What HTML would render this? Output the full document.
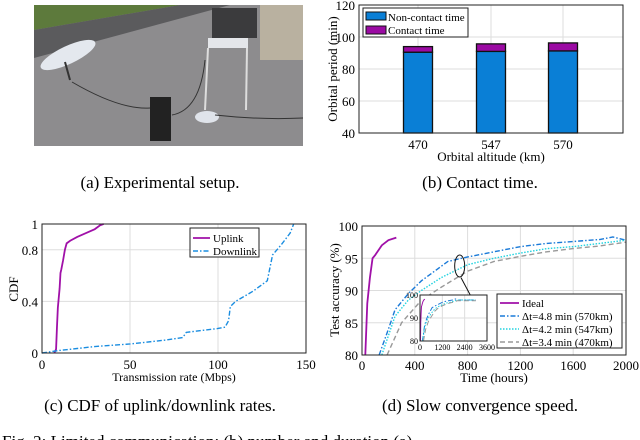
<!DOCTYPE html>
<html><head><meta charset="utf-8"><style>
body{margin:0;background:#fff;}
svg{display:block;font-family:"Liberation Serif",serif;}
</style></head><body>
<svg id="fig" width="640" height="440" viewBox="0 0 640 440">
<g>
 <rect x="34" y="5" width="269" height="141" fill="#8d8c8e"/>
 <polygon points="34,5 180,5 34,30" fill="#5d7a3c"/>
 <polygon points="34,30 180,5 230,5 34,58" fill="#5b5b5d"/>
 <rect x="260" y="5" width="43" height="55" fill="#b9b1a0"/>
 <rect x="212" y="8" width="45" height="30" fill="#3b3b3d"/>
 <rect x="208" y="38" width="40" height="10" fill="#e4e6ea"/>
 <line x1="208" y1="48" x2="205" y2="110" stroke="#ddd" stroke-width="2"/>
 <line x1="247" y1="48" x2="246" y2="110" stroke="#ddd" stroke-width="2"/>
 <ellipse cx="68" cy="55" rx="30" ry="9" fill="#e4e8ee" transform="rotate(-25 68 55)"/>
 <line x1="65" y1="62" x2="70" y2="80" stroke="#333" stroke-width="2"/>
 <rect x="150" y="97" width="21" height="44" fill="#222"/>
 <ellipse cx="207" cy="117" rx="12" ry="6" fill="#dfe3ea"/>
 <path d="M72,82 Q120,110 150,108 M172,115 Q200,110 205,60 M215,115 Q260,120 303,118" stroke="#333" fill="none" stroke-width="1"/>
</g>
<text x="160" y="188" font-size="17" text-anchor="middle">(a) Experimental  setup.</text>
<g id="chartB"></g>
<text x="480" y="188" font-size="17" text-anchor="middle">(b) Contact time.</text>
<g id="chartC"></g>
<text x="160" y="411" font-size="17" text-anchor="middle">(c) CDF of uplink/downlink rates.</text>
<g id="chartD"></g>
<text x="480" y="411" font-size="17" text-anchor="middle">(d) Slow convergence speed.</text>
<text x="2" y="447" font-size="17">Fig. 2: Limited communication: (b) number and duration (a)</text>
</svg>
<script>
const barCats=["470","547","570"];
const nonContact=[90.5,91,91.3];
const contact=[3.5,4.7,5];
const bTicks=[40,60,80,100,120];
const cdfXTicks=[0,50,100,150];
const cdfYTicks=[0,0.4,0.8,1];
const upX=[7,8,8.5,9,10,10.5,11,12,13,14,16,20,25,30,33,35];
const upY=[0,0.03,0.2,0.35,0.5,0.62,0.65,0.72,0.8,0.85,0.87,0.9,0.93,0.96,0.99,1];
const dnX=[0,10,30,50,70,80,82,100,104,106,107,110,120,128,131,136,141,143];
const dnY=[0,0.02,0.05,0.07,0.1,0.12,0.16,0.19,0.2,0.25,0.36,0.4,0.48,0.56,0.76,0.84,0.93,1];
const dXTicks=[0,400,800,1200,1600,2000];
const dYTicks=[80,85,90,95,100];
const idealT=[25,40,60,80,100,150,200,260];
const idealA=[80,88,92,95,95.5,97,97.8,98.2];
const s570T=[130,200,250,350,450,550,650,800,1000,1200,1400,1600,1800,1900,2000];
const s570A=[80,84,87,89.5,91.5,93,94.5,95.2,96,96.8,97.3,97.6,97.9,98.3,97.8];
const s547T=[150,250,350,450,600,800,1000,1200,1400,1600,1800,2000];
const s547A=[80,86,88.5,90,92,94,95,95.8,96.5,96.8,97.3,97.8];
const s470T=[190,300,450,600,800,1000,1200,1400,1600,1800,2000];
const s470A=[80,85,88.5,90.5,93,94.5,95.3,96,96.5,96.9,97.5];
const insetXTicks=[0,1200,2400,3600];
const insetYTicks=[80,90,100];

const NS="http://www.w3.org/2000/svg";
function mk(p,tag,at){const e=document.createElementNS(NS,tag);for(const k in at)e.setAttribute(k,at[k]);p.appendChild(e);return e;}
function txt(p,x,y,s,size,anchor,name){const t=mk(p,"text",{x:x,y:y,"font-size":size,"text-anchor":anchor||"middle"});t.textContent=s;


return t;}
function lin(d0,d1,r0,r1){return v=>r0+(v-d0)/(d1-d0)*(r1-r0);}

// Chart B
(function(){
 const g=document.getElementById("chartB");
 const L=359,R=623,T=5,B=133;
 const y=lin(40,120,B,T);
 const xc=[418,491,563];
 bTicks.forEach(v=>{mk(g,"line",{x1:L,x2:R,y1:y(v),y2:y(v),stroke:"#ddd"});txt(g,L-4,y(v)+5,v,13,"end","y-tick-label");});
 xc.forEach((c,i)=>{mk(g,"line",{x1:c,x2:c,y1:T,y2:B,stroke:"#ddd"});txt(g,c,149,barCats[i],13,"middle","x-tick-label");});
 barCats.forEach((c,i)=>{
  const r=mk(g,"rect",{x:xc[i]-14.5,width:29,y:y(nonContact[i]),height:B-y(nonContact[i]),fill:"#0a7fd6",stroke:"#111","stroke-width":1.3});
  
  
  const tot=nonContact[i]+contact[i];
  const r2=mk(g,"rect",{x:xc[i]-14.5,width:29,y:y(tot),height:y(nonContact[i])-y(tot),fill:"#9b0aa3",stroke:"#111","stroke-width":1.3});
  
  
 });
 mk(g,"rect",{x:L,y:T,width:R-L,height:B-T,fill:"none",stroke:"#222"});
 const lg=mk(g,"g",{});
 
 
 mk(lg,"rect",{x:363,y:8,width:105,height:29,fill:"#fff",stroke:"#222"});
 mk(lg,"rect",{x:366,y:12,width:20,height:8,fill:"#0a7fd6",stroke:"#111"});
 mk(lg,"rect",{x:366,y:26,width:20,height:8,fill:"#9b0aa3",stroke:"#111"});
 txt(lg,388,21,"Non-contact time",11,"start","legend-entry");
 txt(lg,388,34,"Contact time",11,"start","legend-entry");
 txt(g,491,161,"Orbital altitude (km)",13,"middle","x-axis-title");
 const yt=txt(g,0,0,"Orbital period (min)",13,"middle","y-axis-title");yt.setAttribute("transform","translate(337,69) rotate(-90)");
})();

// Chart C
(function(){
 const g=document.getElementById("chartC");
 const L=42,R=306,T=224,B=353;
 const x=lin(0,150,L,R),y=lin(0,1,B,T);
 cdfYTicks.forEach(v=>{mk(g,"line",{x1:L,x2:R,y1:y(v),y2:y(v),stroke:"#ddd"});txt(g,L-4,y(v)+5,v,13,"end","y-tick-label");});
 cdfXTicks.forEach(v=>{mk(g,"line",{x1:x(v),x2:x(v),y1:T,y2:B,stroke:"#ddd"});txt(g,x(v),369,v,13,"middle","x-tick-label");});
 const up=mk(g,"polyline",{points:upX.map((v,i)=>x(v)+","+y(upY[i])).join(" "),fill:"none",stroke:"#a010a8","stroke-width":1.8});
 
 
 const dn=mk(g,"polyline",{points:dnX.map((v,i)=>x(v)+","+y(dnY[i])).join(" "),fill:"none",stroke:"#1a8de0","stroke-width":1.4,"stroke-dasharray":"5 2 1.5 2"});
 
 
 mk(g,"rect",{x:L,y:T,width:R-L,height:B-T,fill:"none",stroke:"#222"});
 const lg=mk(g,"g",{});
 
 
 mk(lg,"rect",{x:190,y:228,width:69,height:29,fill:"#fff",stroke:"#222"});
 mk(lg,"line",{x1:193,x2:210,y1:238,y2:238,stroke:"#a010a8","stroke-width":1.8});
 mk(lg,"line",{x1:193,x2:210,y1:251,y2:251,stroke:"#1a8de0","stroke-width":1.4,"stroke-dasharray":"5 2 1.5 2"});
 txt(lg,213,242,"Uplink",11,"start","legend-entry");
 txt(lg,213,255,"Downlink",11,"start","legend-entry");
 txt(g,174,381,"Transmission rate (Mbps)",12,"middle","x-axis-title");
 const yt=txt(g,0,0,"CDF",13,"middle","y-axis-title");yt.setAttribute("transform","translate(18,289) rotate(-90)");
})();

// Chart D
(function(){
 const g=document.getElementById("chartD");
 const L=362,R=626,T=226,B=355;
 const x=lin(0,2000,L,R),y=lin(80,100,B,T);
 dYTicks.forEach(v=>{mk(g,"line",{x1:L,x2:R,y1:y(v),y2:y(v),stroke:"#ddd"});txt(g,L-4,y(v)+5,v,13,"end","y-tick-label");});
 dXTicks.forEach(v=>{mk(g,"line",{x1:x(v),x2:x(v),y1:T,y2:B,stroke:"#ddd"});txt(g,x(v),370,v,13,"middle","x-tick-label");});
 const defs=mk(g,"clipPath",{id:"clipD"});mk(defs,"rect",{x:L,y:T,width:R-L,height:B-T});
 const series=[[idealT,idealA,"#a010a8",1.8,"","ideal-line"],[s570T,s570A,"#1a7ad8",1.4,"5 2 1.5 2","line-570km"],[s547T,s547A,"#22d3e0",1.4,"1.5 1.5","line-547km"],[s470T,s470A,"#999",1.4,"5 3","line-470km"]];
 const cg=mk(g,"g",{"clip-path":"url(#clipD)"});
 series.forEach(s=>{const p=mk(cg,"polyline",{points:s[0].map((v,i)=>x(v)+","+y(s[1][i])).join(" "),fill:"none",stroke:s[2],"stroke-width":s[3],"stroke-dasharray":s[4]});
  
  });
 mk(g,"rect",{x:L,y:T,width:R-L,height:B-T,fill:"none",stroke:"#222"});
 mk(g,"ellipse",{cx:x(740),cy:y(93.8),rx:5,ry:11,fill:"none",stroke:"#111"});
 mk(g,"line",{x1:x(750),y1:y(92),x2:x(820),y2:y(89.3),stroke:"#111"});
 // inset
 const ig=mk(g,"g",{});
 
 
 const iL=420,iR=487,iT=295,iB=341;
 const ix=lin(0,3600,iL,iR),iy=lin(80,100,iB,iT);
 mk(ig,"rect",{x:iL,y:iT,width:iR-iL,height:iB-iT,fill:"#fff"});
 insetYTicks.forEach(v=>{mk(ig,"line",{x1:iL,x2:iR,y1:iy(v),y2:iy(v),stroke:"#ddd"});txt(ig,iL-2,iy(v)+3,v,8,"end","inset-y-tick");});
 insetXTicks.forEach(v=>{mk(ig,"line",{x1:ix(v),x2:ix(v),y1:iT,y2:iB,stroke:"#ddd"});txt(ig,ix(v),iB+9,v,8,"middle","inset-x-tick");});
 series.forEach(s=>{const p=mk(ig,"polyline",{points:s[0].map((v,i)=>ix(v)+","+iy(s[1][i])).join(" ")+(s[5]==="ideal-line"?"":" "+ix(3000)+","+iy(s[1][s[1].length-1])),fill:"none",stroke:s[2],"stroke-width":1,"stroke-dasharray":s[4]});
  
  });
 mk(ig,"rect",{x:iL,y:iT,width:iR-iL,height:iB-iT,fill:"none",stroke:"#222"});
 const lg=mk(g,"g",{});
 
 
 mk(lg,"rect",{x:497,y:294,width:125,height:54,fill:"#fff",stroke:"#222"});
 const labs=["Ideal","\u0394t=4.8 min (570km)","\u0394t=4.2 min (547km)","\u0394t=3.4 min (470km)"];
 labs.forEach((l,i)=>{const yy=303+i*13;mk(lg,"line",{x1:500,x2:519,y1:yy,y2:yy,stroke:series[i][2],"stroke-width":series[i][3],"stroke-dasharray":series[i][4]});txt(lg,522,yy+4,l,11,"start","legend-entry");});
 txt(g,494,382,"Time (hours)",13,"middle","x-axis-title");
 const yt=txt(g,0,0,"Test accuracy (%)",13,"middle","y-axis-title");yt.setAttribute("transform","translate(339,290) rotate(-90)");
})();
</script>
</body></html>
